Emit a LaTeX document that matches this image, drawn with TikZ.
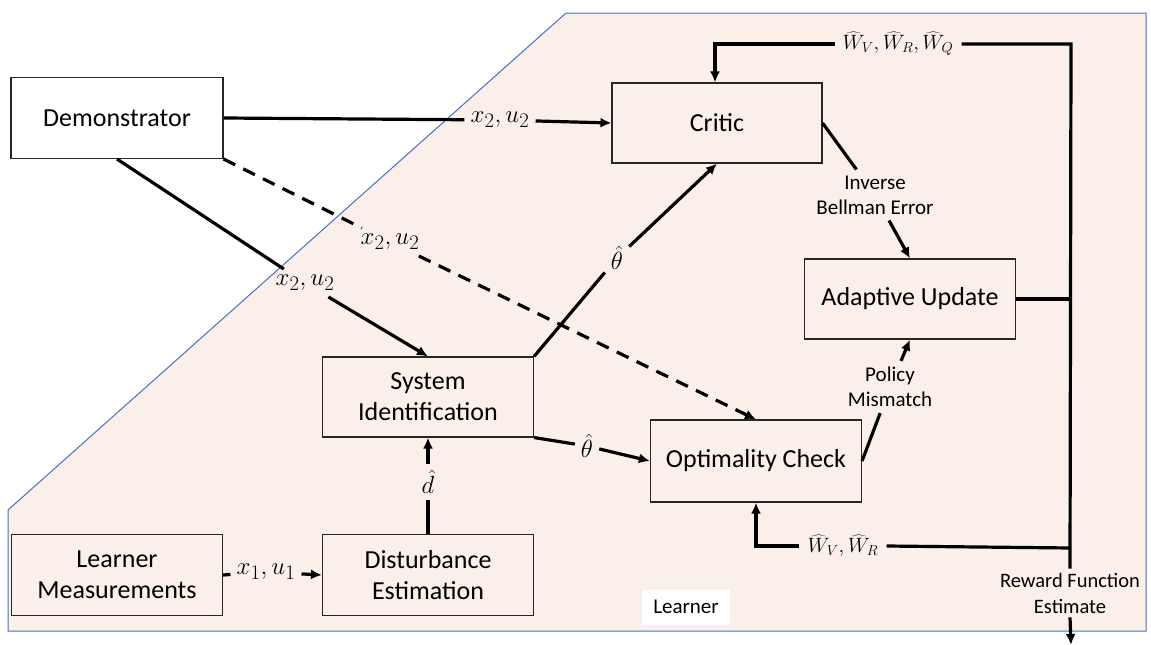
\documentclass[tikz,border=0pt]{standalone}
\usepackage{fontspec}
\setmainfont{Carlito}
\usetikzlibrary{arrows.meta}
\definecolor{bgpeach}{RGB}{250,240,233}
\definecolor{regblue}{RGB}{68,114,196}
\begin{document}
\begin{tikzpicture}[x=1pt,y=-1pt,
  box/.style={draw=black!85,line width=1.1pt,minimum width=211pt,minimum height=81pt,align=center,font=\fontsize{26}{31}\selectfont,inner sep=0pt},
  lbl/.style={inner sep=6pt,font=\fontsize{24.88}{28}\selectfont},
  wlbl/.style={inner sep=8pt,font=\fontsize{22}{26}\selectfont},
  txt/.style={inner sep=6pt,align=center,font=\fontsize{21}{25}\selectfont},
  conn/.style={line width=3.2pt,black},
  arr/.style={conn,-{Latex[length=11pt,width=10pt]}},
  dsh/.style={conn,dash pattern=on 13pt off 9pt}]
\useasboundingbox (0,0) rectangle (1151,645);
\fill[bgpeach,draw=regblue,line width=1pt] (566,13) -- (1146,13) -- (1146,631) -- (8,631) -- (8,510) -- cycle;

% boxes
\node[box,minimum width=212pt] (demo) at (117,118) {Demonstrator};
\node[box,minimum width=210pt,minimum height=80pt] (critic) at (717,123) {Critic};
\node[box,minimum height=80pt] (adapt) at (910,299) {Adaptive Update};
\node[box,minimum height=80pt] (sysid) at (428,397) {System\\Identification};
\node[box,minimum height=82pt] (opt) at (756,461) {Optimality Check};
\node[box] (lm) at (117,575) {Learner\\Measurements};
\node[box] (dist) at (428,575) {Disturbance\\Estimation};
\node[fill=white,minimum width=88pt,minimum height=35pt,font=\fontsize{21}{25}\selectfont] (learner) at (686,607) {Learner};

% labels
\node[lbl] (l1) at (500,120) {$x_2,u_2$};
\node[lbl] (l2) at (305,283) {$x_2,u_2$};
\node[lbl] (l3) at (390,242) {$x_2,u_2$};
\node[lbl] (l4) at (617,258) {$\hat\theta$};
\node[lbl] (l5) at (587,446) {$\hat\theta$};
\node[lbl] (l6) at (428,482) {$\hat d$};
\node[lbl] (l7) at (266,572) {$x_1,u_1$};
\node[txt] (l8) at (875,195) {Inverse\\Bellman Error};
\node[txt] (l9) at (890,387) {Policy\\Mismatch};
\node[wlbl] (l10) at (898,44) {$\widehat{W}_{V},\widehat{W}_{R},\widehat{W}_{Q}$};
\node[wlbl] (l11) at (843,546) {$\widehat{W}_{V},\widehat{W}_{R}$};
\node[txt,font=\fontsize{20.5}{26}\selectfont,inner sep=4pt] (l12) at (1070,593) {Reward Function\\Estimate};

\coordinate (bt) at (1071,44);
\coordinate (bb) at (1071,548);
\coordinate (out) at (1071,645);

% connectors
\draw[conn] (demo.east) -- (l1);
\draw[arr] (l1) -- (critic.west);
\draw[conn] (demo.south) -- (l2);
\draw[arr] (l2) -- (sysid.north);
\draw[dsh] (demo.south east) -- (l3);
\draw[dsh,-{Latex[length=11pt,width=10pt]}] (l3) -- (opt.north);
\draw[conn] (sysid.north east) -- (l4);
\draw[arr] (l4) -- (critic.south);
\draw[conn] (sysid.south east) -- (l5);
\draw[arr] (l5) -- (opt.west);
\draw[conn] (dist.north) -- (l6);
\draw[arr] (l6) -- (sysid.south);
\draw[conn] (lm.east) -- (l7);
\draw[arr] (l7) -- (dist.west);
\draw[conn] (critic.east) -- (l8);
\draw[arr] (l8) -- (adapt.north);
\draw[conn] (opt.east) -- (l9);
\draw[arr] (l9) -- (adapt.south);

\draw[conn] (l10.east) -- (bt) -- (l12.north);
\draw[arr] (l12.south) -- (out);
\draw[conn] (adapt.east) -- (adapt.east -| bt);
\draw[arr] (l10.west) -| ([xshift=-2pt]critic.north);
\draw[conn] (bb) -- (l11.east);
\draw[arr] (l11.west) -| (opt.south);
\end{tikzpicture}
\end{document}
